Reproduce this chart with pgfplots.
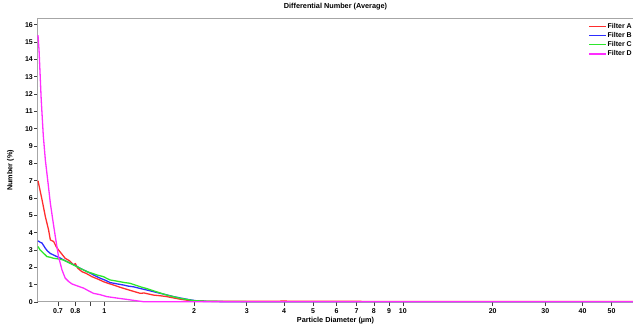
\documentclass[border=0pt]{standalone}
\usepackage{fontspec}
\setmainfont{Liberation Sans}
\usepackage{pgfplots}
\pgfplotsset{compat=1.18}
\definecolor{cA}{RGB}{255,45,45}
\definecolor{cB}{RGB}{45,45,255}
\definecolor{cC}{RGB}{45,230,45}
\definecolor{cD}{RGB}{255,45,255}
\newcommand{\lf}{\fontsize{7.3}{8}\selectfont\bfseries}
\newcommand{\tf}{\fontsize{7}{8}\selectfont\bfseries}
\begin{document}
\begin{tikzpicture}
\begin{axis}[
  at={(0,0)}, anchor=south west,
  scale only axis, width=595pt, height=283pt,
  xmode=log, xmin=0.6, xmax=59, ymin=0, ymax=16.33,
  clip=false,
  axis line style={draw=black!35, line width=1pt},
  tick style={black!75, line width=0.6pt},
  tick align=outside, major tick length=4pt,
  xtick={0.7,0.8,0.9,1,2,3,4,5,6,7,8,9,10,20,30,40,50},
  xticklabels={0.7,0.8,,1,2,3,4,5,6,7,8,9,10,20,30,40,50},
  minor xtick={},
  ytick={0,1,...,16},
  xtick pos=bottom, ytick pos=left,
  /pgf/number format/assume math mode=true,
  ticklabel style={font=\tf},
  xticklabel style={inner sep=1pt, yshift=-1pt},
  yticklabel style={inner sep=1pt},
  title={Differential Number (Average)},
  title style={font=\lf, at={(0.5,1)}, anchor=south, yshift=3pt, inner sep=0pt},
  xlabel={Particle Diameter (µm)},
  ylabel={Number (\%)},
  xlabel style={font=\lf, at={(axis description cs:0.5,-0.0671)}, anchor=center},
  ylabel style={font=\lf, at={(axis description cs:-0.0462,0.465)}, anchor=center, rotate=0},
  legend style={at={(1,1)}, anchor=north east, xshift=3pt, yshift=-1pt, draw=none, fill=none, font=\tf, nodes={inner sep=1pt}, row sep=0.6pt},
  legend cell align=left,
  legend image code/.code={\draw[mark repeat=2,mark phase=2,#1] plot coordinates {(0pt,0pt) (8.5pt,0pt) (17pt,0pt)};},
  every axis plot/.append style={line width=1.3pt, line join=round},
]
\addplot[cA] coordinates {
(0.6,7.0) (0.619,5.9) (0.635,4.93) (0.651,4.16) (0.66,3.58) (0.677,3.49) (0.69,3.2) (0.703,3.0)
(0.72,2.78) (0.74,2.52) (0.765,2.38) (0.79,2.14) (0.80,2.22) (0.815,1.95) (0.842,1.75) (0.87,1.65)
(0.91,1.46) (0.95,1.33) (0.995,1.17) (1.03,1.08) (1.074,0.98) (1.13,0.85) (1.19,0.73) (1.25,0.62)
(1.32,0.50) (1.36,0.52) (1.46,0.40) (1.54,0.36) (1.62,0.31) (1.70,0.24) (1.80,0.16) (1.9,0.10)
(1.99,0.06) (2.3,0.04) (3,0.04) (4,0.05) (5,0.04) (10,0.03) (20,0.03) (59,0.03)};
\addlegendentry{Filter A}
\addplot[cB] coordinates {
(0.6,3.53) (0.61,3.45) (0.619,3.4) (0.635,3.1) (0.645,2.95) (0.66,2.8) (0.694,2.62) (0.71,2.55)
(0.73,2.43) (0.77,2.24) (0.80,2.10) (0.83,1.95) (0.865,1.80) (0.898,1.66) (0.935,1.50) (0.97,1.37)
(1.01,1.25) (1.047,1.12) (1.10,1.05) (1.16,0.98) (1.2,0.92) (1.25,0.88) (1.32,0.78) (1.39,0.69)
(1.46,0.60) (1.54,0.50) (1.62,0.41) (1.71,0.31) (1.80,0.23) (1.89,0.16) (2.0,0.09) (2.09,0.04)
(2.5,0.02) (4,0.02) (10,0.01) (59,0.01)};
\addlegendentry{Filter B}
\addplot[cC] coordinates {
(0.6,3.2) (0.61,3.0) (0.619,2.9) (0.643,2.62) (0.66,2.58) (0.677,2.52) (0.713,2.47) (0.73,2.42)
(0.75,2.33) (0.78,2.18) (0.81,2.04) (0.84,1.90) (0.875,1.75) (0.91,1.66) (0.945,1.56) (0.995,1.46)
(1.02,1.36) (1.047,1.27) (1.09,1.22) (1.13,1.17) (1.17,1.12) (1.22,1.08) (1.27,0.98) (1.32,0.88)
(1.39,0.77) (1.46,0.65) (1.54,0.52) (1.62,0.40) (1.71,0.30) (1.80,0.21) (1.9,0.14) (1.99,0.08)
(2.2,0.04) (3,0.02) (10,0.01) (59,0.01)};
\addlegendentry{Filter C}
\addplot[cD] coordinates {
(0.6,15.4) (0.605,14.5) (0.615,11.7) (0.625,9.6) (0.635,8.2) (0.648,6.9) (0.66,5.7) (0.673,4.7)
(0.686,3.76) (0.703,2.62) (0.722,1.85) (0.74,1.38) (0.76,1.18) (0.78,1.04) (0.815,0.92) (0.853,0.8)
(0.885,0.65) (0.92,0.5) (0.97,0.42) (1.02,0.31) (1.1,0.23) (1.19,0.15) (1.27,0.08) (1.35,0.02)
(1.6,0.01) (3,0.01) (10,0.01) (59,0.01)};
\addlegendentry{Filter D}
\end{axis}
\pgfresetboundingbox
\path[use as bounding box] (-38pt,-25pt) rectangle (595pt,302pt);
\end{tikzpicture}
\end{document}
